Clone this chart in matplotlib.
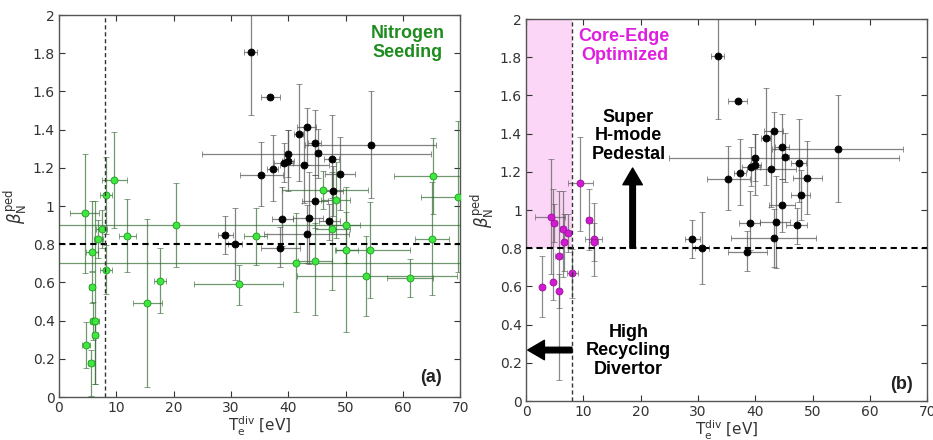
import numpy as np
import matplotlib.pyplot as plt
from matplotlib.ticker import FuncFormatter

# black points (same in both panels): Te, beta, x err lo/hi, y err lo/hi
blk_te = [33.45, 36.9, 43.2, 41.8, 44.6, 54.5, 40.0, 45.2, 47.6, 39.2, 40.0, 42.7,
          37.3, 35.3, 49.1, 47.9, 44.7, 39.0, 43.6, 47.2, 43.2, 38.6, 29.0, 30.7]
blk_b = [1.806, 1.572, 1.414, 1.379, 1.332, 1.32, 1.272, 1.276, 1.244, 1.227, 1.237, 1.215,
         1.194, 1.164, 1.169, 1.079, 1.024, 0.930, 0.937, 0.920, 0.853, 0.780, 0.847, 0.803]
blk_xlo = [1.1, 1.7, 1.7, 0.8, 1.2, 11.5, 15.0, 0.6, 1.3, 1.6, 1.0, 4.2,
           1.0, 3.8, 2.6, 1.7, 2.3, 1.8, 2.8, 1.9, 7.4, 3.3, 1.3, 1.2]
blk_xhi = [1.1, 1.7, 1.7, 0.8, 1.2, 11.2, 25.0, 0.6, 1.3, 1.6, 1.0, 4.4,
           1.0, 3.8, 2.6, 1.7, 2.3, 1.8, 2.4, 1.9, 7.4, 3.5, 1.3, 1.2]
blk_ylo = [0.33, 0.0, 0.2, 0.25, 0.17, 0.28, 0.12, 0.13, 0.2, 0.1, 0.16, 0.2,
           0.17, 0.165, 0.19, 0.13, 0.14, 0.14, 0.24, 0.1, 0.15, 0.1, 0.1, 0.19]
blk_yhi = [0.4, 0.0, 0.1, 0.26, 0.17, 0.28, 0.124, 0.13, 0.235, 0.105, 0.16, 0.2,
           0.18, 0.17, 0.195, 0.13, 0.14, 0.17, 0.24, 0.09, 0.15, 0.11, 0.1, 0.185]

# green points (nitrogen seeding, panel a)
grn_te = [9.66, 8.2, 4.54, 20.4, 7.45, 6.87, 11.9, 5.76, 8.2, 5.76, 6.0, 6.3, 6.28, 4.71,
          5.53, 15.4, 17.6, 31.4, 34.3, 41.4, 44.7, 47.7, 50.1, 50.1, 54.3, 53.5, 61.2,
          65.1, 65.3, 69.6, 46.0, 48.3]
grn_b = [1.136, 1.056, 0.962, 0.90, 0.878, 0.829, 0.845, 0.759, 0.667, 0.574, 0.396, 0.396,
         0.326, 0.274, 0.176, 0.494, 0.609, 0.590, 0.841, 0.703, 0.710, 0.878, 0.902, 0.768,
         0.771, 0.632, 0.625, 0.826, 1.157, 1.047, 1.085, 1.031]
grn_xlo = [2.2, 1.0, 2.7, 20.4, 1.0, 0.8, 1.5, 1.0, 1.0, 0.5, 0.6, 0.6, 0.5, 0.7,
           0.5, 2.5, 1.0, 7.8, 2.0, 41.4, 3.0, 3.0, 2.5, 2.0, 6.0, 12.0, 4.0,
           3.0, 6.8, 6.5, 7.0, 2.5]
grn_xhi = [2.2, 1.0, 2.5, 49.6, 1.0, 0.8, 1.5, 1.0, 1.0, 0.5, 0.6, 0.6, 0.5, 0.7,
           0.5, 2.5, 1.0, 7.7, 2.0, 28.6, 3.0, 3.0, 2.5, 2.0, 7.0, 16.0, 4.0,
           3.0, 5.0, 1.0, 8.0, 2.5]
grn_ylo = [0.25, 0.2, 0.31, 0.22, 0.1, 0.1, 0.19, 0.1, 0.13, 0.08, 0.1, 0.33, 0.26, 0.12,
           0.17, 0.44, 0.17, 0.11, 0.15, 0.26, 0.28, 0.32, 0.2, 0.43, 0.25, 0.21, 0.1,
           0.29, 0.2, 0.39, 0.1, 0.2]
grn_yhi = [0.25, 0.2, 0.31, 0.22, 0.1, 0.1, 0.19, 0.27, 0.13, 0.08, 0.1, 0.63, 0.07, 0.12,
           0.07, 0.44, 0.17, 0.1, 0.15, 0.26, 0.2, 0.3, 0.2, 0.2, 0.25, 0.21, 0.1,
           0.3, 0.2, 0.4, 0.1, 0.2]

# magenta points (core-edge optimized, panel b)
mag_te = [9.48, 4.31, 4.89, 11.0, 6.5, 7.3, 6.7, 11.8, 11.8, 5.7, 8.08, 2.74, 4.66, 5.7]
mag_b = [1.140, 0.965, 0.933, 0.949, 0.899, 0.881, 0.831, 0.846, 0.831, 0.761, 0.668,
         0.598, 0.621, 0.577]
mag_xlo = [2.2, 2.7, 0.6, 0.5, 0.5, 0.5, 0.5, 1.5, 0.8, 0.6, 1.0, 0.3, 0.3, 0.3]
mag_xhi = [2.2, 2.5, 0.6, 0.5, 0.5, 0.5, 0.5, 1.5, 0.8, 0.6, 1.0, 0.3, 0.3, 0.3]
mag_ylo = [0.25, 0.3, 0.1, 0.16, 0.25, 0.1, 0.15, 0.19, 0.1, 0.65, 0.13, 0.16, 0.09, 0.09]
mag_yhi = [0.24, 0.3, 0.1, 0.16, 0.2, 0.1, 0.15, 0.19, 0.1, 0.34, 0.13, 0.16, 0.49, 0.09]

te_cut = 8.0
beta_cut = 0.8

fig = plt.figure(figsize=(9.33, 4.40), dpi=100)
axa = fig.add_axes([0.0632, 0.0977, 0.430, 0.868])
axb = fig.add_axes([0.5638, 0.0886, 0.430, 0.868])

fmt = FuncFormatter(lambda v, p: '%g' % round(v, 2))
bold = dict(fontweight='bold', family=['Liberation Sans', 'DejaVu Sans'], fontsize=13)


def pts(ax, te, b, xlo, xhi, ylo, yhi, fc, ec, bar):
    ax.errorbar(te, b, xerr=[xlo, xhi], yerr=[ylo, yhi], fmt='o', ms=5,
                mfc=fc, mec=ec, mew=0.6, ecolor=bar, elinewidth=0.9,
                capsize=2, capthick=0.7, zorder=3)


for ax in (axa, axb):
    ax.set_xlim(0, 70)
    ax.set_ylim(0, 2)
    ax.set_xticks(np.arange(0, 71, 10))
    ax.set_yticks(np.arange(0, 2.01, 0.2))
    ax.yaxis.set_major_formatter(fmt)
    ax.tick_params(direction='in', top=True, right=True, length=4,
                   labelsize=10, colors='#333333', pad=3)
    for s in ax.spines.values():
        s.set_color('#555555')
        s.set_linewidth(1.0)
    ax.axhline(beta_cut, color='black', ls=(0, (3, 2)), lw=1.5, zorder=4)
    ax.axvline(te_cut, color='#333333', ls=(0, (3, 2)), lw=1.0, zorder=4)
    ax.set_xlabel(r'T$_{\rm e}^{\rm div}$ [eV]', fontsize=11, color='#333333', labelpad=0)
    ax.set_ylabel(r'$\beta_{\rm N}^{\rm ped}$', fontsize=12, color='#333333', labelpad=2)

# panel (a)
pts(axa, blk_te, blk_b, blk_xlo, blk_xhi, blk_ylo, blk_yhi, 'black', 'black', (0.3, 0.3, 0.3, 0.7))
pts(axa, grn_te, grn_b, grn_xlo, grn_xhi, grn_ylo, grn_yhi, '#3ee83e', '#1f9a1f', (0.2, 0.42, 0.2, 0.7))
axa.text(0.87, 0.928, 'Nitrogen\nSeeding', transform=axa.transAxes, ha='center', va='center',
         color='#1f8c1f', linespacing=1.15, **bold)
axa.text(0.955, 0.03, '(a)', transform=axa.transAxes, ha='right', va='bottom',
         color='#222222', **bold)

# panel (b)
axb.fill_between([0, te_cut], beta_cut, 2, color='#fbd6f6', zorder=0, lw=0)
pts(axb, blk_te, blk_b, blk_xlo, blk_xhi, blk_ylo, blk_yhi, 'black', 'black', (0.3, 0.3, 0.3, 0.7))
pts(axb, mag_te, mag_b, mag_xlo, mag_xhi, mag_ylo, mag_yhi, '#d21ad2', '#9a129a', (0.35, 0.35, 0.35, 0.7))
axb.text(0.245, 0.93, 'Core-Edge\nOptimized', transform=axb.transAxes, ha='center', va='center',
         color='#e01ee0', linespacing=1.15, **bold)
axb.text(0.255, 0.694, 'Super\nH-mode\nPedestal', transform=axb.transAxes, ha='center',
         va='center', linespacing=1.15, **bold)
axb.text(0.255, 0.131, 'High\nRecycling\nDivertor', transform=axb.transAxes, ha='center',
         va='center', linespacing=1.15, **bold)
axb.annotate('', xy=(18.6, 1.22), xytext=(18.6, 0.8),
             arrowprops=dict(facecolor='black', edgecolor='black', width=4, headwidth=14,
                             headlength=12), zorder=5)
axb.annotate('', xy=(0.3, 0.267), xytext=(8.0, 0.267),
             arrowprops=dict(facecolor='black', edgecolor='black', width=4, headwidth=14,
                             headlength=12), zorder=5)
axb.text(0.965, 0.02, '(b)', transform=axb.transAxes, ha='right', va='bottom',
         color='#222222', **bold)

fig.savefig('out.png', dpi=100)
